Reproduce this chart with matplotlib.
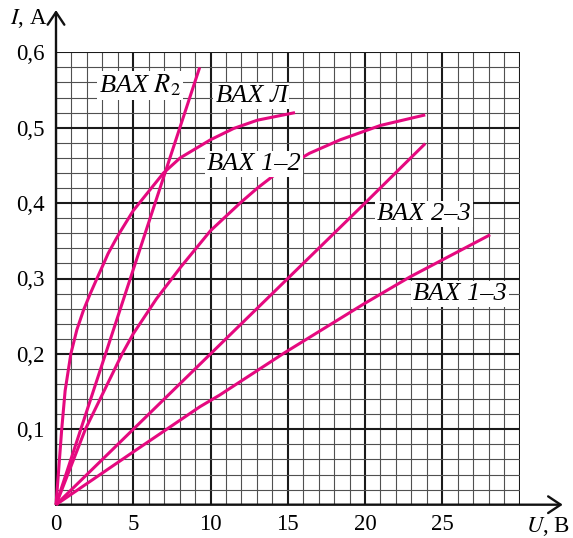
import numpy as np
import matplotlib
matplotlib.use("Agg")
import matplotlib.pyplot as plt
from matplotlib.ticker import FixedLocator, MultipleLocator

plt.rcParams['font.family'] = ['Liberation Serif', 'DejaVu Serif']
plt.rcParams['mathtext.fontset'] = 'stix'

# volt-ampere characteristics (U in volts, I in amps)
u_lamp = [0, 0.15, 0.37, 0.59, 0.96, 1.35, 1.78, 2.22, 2.65, 3.09, 3.37, 3.85, 4.13, 5.0,
          5.98, 6.96, 8.04, 10.0, 11.5, 13.04, 15.47]
i_lamp = [0, 0.04, 0.1, 0.151, 0.2, 0.232, 0.258, 0.28, 0.3, 0.32, 0.333, 0.351, 0.361, 0.39,
          0.415, 0.44, 0.46, 0.484, 0.499, 0.51, 0.52]

u_r2 = [0, 9.3]
i_r2 = [0, 0.58]

u_12 = [0, 1.9, 4.28, 5.0, 6.5, 8.09, 10.0, 11.96, 13.04, 14.5, 16.4, 18.4, 21.0, 23.9]
i_12 = [0, 0.1, 0.2, 0.2267, 0.273, 0.3156, 0.3634, 0.4009, 0.42, 0.443, 0.466, 0.484, 0.503, 0.517]

u_23 = [0, 5, 10, 15, 20, 23.9]
i_23 = [0, 0.1, 0.2, 0.3, 0.4, 0.479]

u_13 = [0, 5.0, 9.32, 10.6, 14.8, 19.9, 22.9, 28.1]
i_13 = [0, 0.070, 0.130, 0.1455, 0.2016, 0.266, 0.302, 0.358]

x_ticks = [0, 5, 10, 15, 20, 25, 30]
x_labels = ['0', '5', '10', '15', '20', '25', '']
y_ticks = [0, 0.1, 0.2, 0.3, 0.4, 0.5, 0.6]
y_labels = ['', '0,1', '0,2', '0,3', '0,4', '0,5', '0,6']

curve_names = [r'ВАХ $R_2$', 'ВАХ Л', 'ВАХ 1–2', 'ВАХ 2–3', 'ВАХ 1–3']
name_pos = [(5.44, 0.556), (12.65, 0.542), (12.82, 0.452), (23.82, 0.386), (26.15, 0.279)]

pink = '#E5097F'

fig = plt.figure(figsize=(5.73, 5.38), dpi=100)
ax = fig.add_axes([56 / 573, 1 - 504.7 / 538, 463.5 / 573, 452.4 / 538])
ax.set_xlim(0, 30)
ax.set_ylim(0, 0.6)

ax.xaxis.set_major_locator(FixedLocator(x_ticks))
ax.yaxis.set_major_locator(FixedLocator(y_ticks))
ax.xaxis.set_minor_locator(MultipleLocator(1))
ax.yaxis.set_minor_locator(MultipleLocator(0.02))
ax.set_xticklabels(x_labels)
ax.set_yticklabels(y_labels)
ax.tick_params(which='both', length=0)
ax.tick_params(axis='x', pad=6.5, labelsize=16.5)
ax.tick_params(axis='y', pad=8, labelsize=16.5)

ax.grid(which='minor', color='#505050', lw=0.8, zorder=0)
ax.grid(which='major', color='#1a1a1a', lw=1.5, zorder=0)
ax.set_axisbelow(True)
for s in ax.spines.values():
    s.set_visible(False)

# axes with arrows
arr = dict(arrowstyle='->,head_length=0.45,head_width=0.3', lw=1.7, color='#111111',
           mutation_scale=20, shrinkA=0, shrinkB=0)
ax.annotate('', xy=(0, 0.656), xytext=(0, 0), arrowprops=arr, annotation_clip=False)
ax.annotate('', xy=(32.8, 0), xytext=(0, 0), arrowprops=arr, annotation_clip=False)

for u, i in [(u_lamp, i_lamp), (u_r2, i_r2), (u_12, i_12), (u_23, i_23), (u_13, i_13)]:
    ax.plot(u, i, color=pink, lw=2.2, solid_capstyle='butt', solid_joinstyle='round',
            zorder=3, clip_on=False)

for name, (x, y) in zip(curve_names, name_pos):
    ax.text(x, y, name, fontsize=19, style='italic', ha='center', va='center', zorder=5,
            bbox=dict(facecolor='white', edgecolor='none', pad=1.5))

fig.text(29 / 573, 1 - 18 / 538, r'$I$, А', fontsize=16.5, ha='center', va='center')
fig.text(548 / 573, 1 - 527 / 538, r'$U$, В', fontsize=16.5, ha='center', va='center')

fig.savefig('out.png', dpi=100)
